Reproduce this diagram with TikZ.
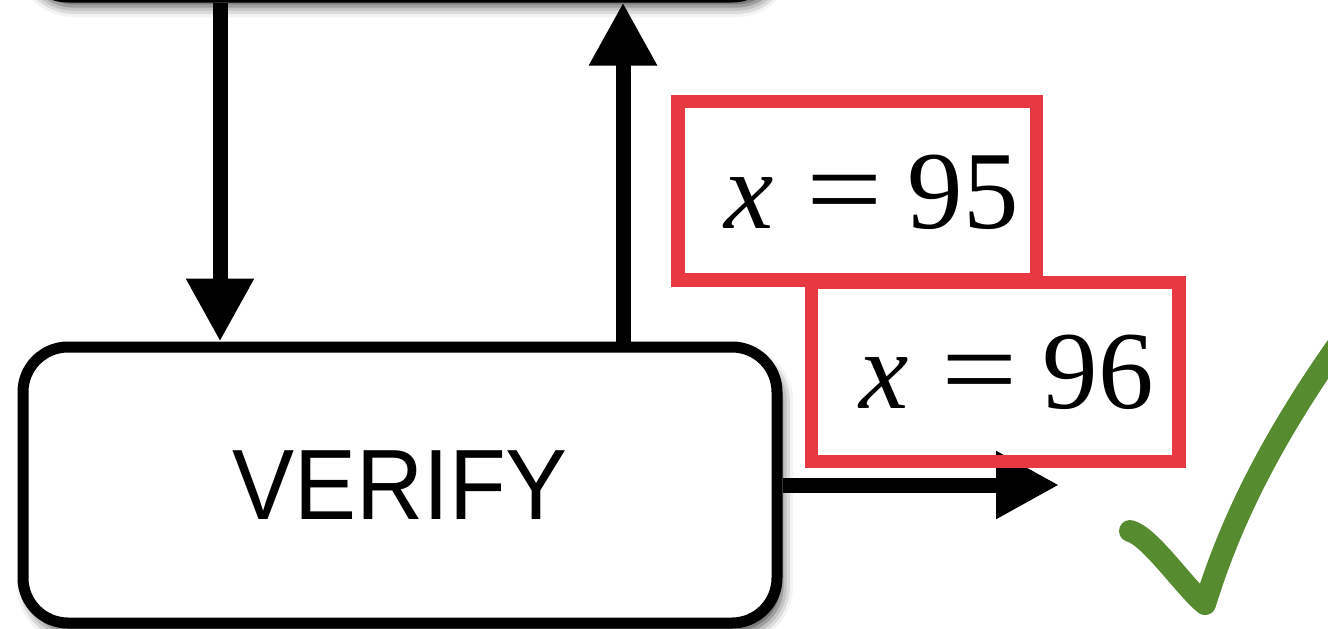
\documentclass[tikz,border=0pt]{standalone}
\usepackage{fontspec}
\setmainfont{Liberation Serif}
\newfontfamily\sansf{Liberation Sans}
\usetikzlibrary{arrows.meta,shadows.blur}
\definecolor{redbox}{RGB}{232,57,67}
\definecolor{checkgreen}{RGB}{87,139,48}
\newcommand{\wideeq}{\hspace{0.3em}\scalebox{1.22}[1.05]{=}\hspace{0.22em}}
\begin{document}
\begin{tikzpicture}[x=1pt,y=-1pt,
  blockbox/.style={draw=black, line width=11pt, rounded corners=45pt, fill=white,
    minimum width=754pt, minimum height=276pt, inner sep=0pt,
    blur shadow={shadow xshift=5pt, shadow yshift=-9pt, shadow blur radius=11pt, shadow opacity=75}},
  valbox/.style={draw=redbox, line width=13.5pt, inner sep=0pt},
  valtext/.style={anchor=base west, inner sep=0pt, font=\fontsize{111}{120}\selectfont},
  arr/.style={line width=15pt, -{Triangle[length=63pt,width=64pt]}},
  checkline/.style={draw=checkgreen, line width=22pt, line cap=round, line join=round}
]
\useasboundingbox (0,0) rectangle (1328,629);
\clip (0,0) rectangle (1328,629);

% blocks
\node[blockbox] (top) at (400,-141) {};
\node[blockbox] (verify) at (400,485)
  {\scalebox{0.93}[1]{\sansf\fontsize{100}{110}\selectfont VERIFY}};

% connector positions
\coordinate (dx) at (220,0);
\coordinate (ux) at (623,0);
\coordinate (rtip) at (1059,485);

\draw[arr] (top.south -| dx) -- (verify.north -| dx);
\draw[arr] (verify.north -| ux) -- (top.south -| ux);
\draw[arr] (verify.east) -- (rtip);

% value boxes
\node[valbox, minimum width=358.5pt, minimum height=178.5pt] (b95) at (857.25,190.75) {};
\node[valbox, minimum width=367.5pt, minimum height=179pt] (b96) at (995.25,372) {};
\node[valtext] (t95) at (724,228) {\textit{x}\wideeq 95};
\node[valtext] (t96) at (859,408) {\textit{x}\wideeq 96};

% check mark
\draw[checkline] (1130,531) .. controls (1150,536) and (1185,588) .. (1205,604)
  .. controls (1228,530) and (1266,444) .. (1350,328);
\end{tikzpicture}
\end{document}
